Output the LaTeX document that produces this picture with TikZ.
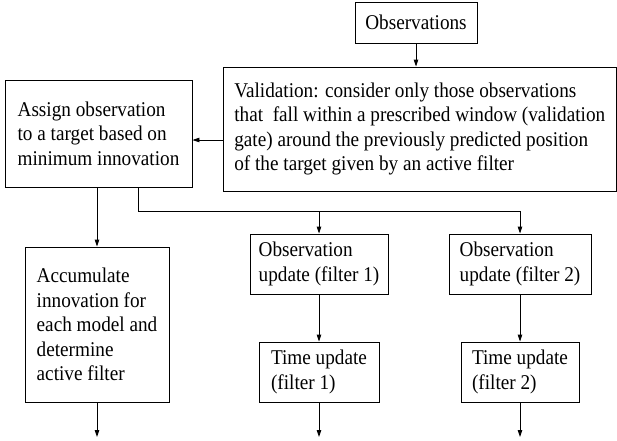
\documentclass[tikz,border=0pt]{standalone}
\usepackage{fontspec}
\setmainfont{Liberation Serif}[FakeStretch=0.915]
\usetikzlibrary{arrows.meta}
\tikzset{
  box/.style={draw, line width=0.9pt, align=left, inner xsep=4pt, inner ysep=2pt,
    font=\fontsize{21}{24.5}\selectfont},
  arr/.style={line width=0.9pt, -{Triangle[length=7pt,width=4.5pt]}},
  ln/.style={line width=0.9pt}
}
\begin{document}
\begin{tikzpicture}[x=1pt,y=-1pt]
\useasboundingbox (0,0) rectangle (617,440);
% boxes
\node[box, align=center, minimum width=122, minimum height=41] (obs) at (416,22.5) {Observations};
\node[box, minimum width=393.5, minimum height=124] (val) at (419.75,129)
  {Validation: consider only those observations\\that~ fall within a prescribed window (validation\\gate) around the previously predicted position\\of the target given by an active filter};
\node[box, minimum width=187, minimum height=107] (asg) at (98.5,133.5)
  {Assign observation\\to a target based on\\minimum innovation};
\node[box, minimum width=144, minimum height=155] (acc) at (97,324.5)
  {Accumulate\\innovation for\\each model and\\determine\\active filter};
\node[box, minimum width=138, minimum height=60] (ou1) at (319,264)
  {Observation\\update (filter 1)};
\node[box, minimum width=142, minimum height=60] (ou2) at (520,264)
  {Observation\\update (filter 2)};
\node[box, minimum width=120, minimum height=60] (tu1) at (319,372)
  {Time update\\(filter 1)};
\node[box, minimum width=118, minimum height=60] (tu2) at (520,372)
  {Time update\\(filter 2)};
% helper coordinates
\coordinate (hy) at (0,140);
\coordinate (br) at (138,211);
\coordinate (e1) at (97,437);
\coordinate (e2) at (319,437);
\coordinate (e3) at (520,437);
% connectors
\draw[arr] (obs.south) -- (obs.south |- val.north);
\draw[arr] (val.west |- hy) -- (asg.east |- hy);
\draw[arr] (asg.south -| acc.north) -- (acc.north);
\draw[ln] (asg.south -| br) -- (br) -- (br -| ou2.north);
\draw[arr] (br -| ou1.north) -- (ou1.north);
\draw[arr] (br -| ou2.north) -- (ou2.north);
\draw[arr] (ou1.south) -- (tu1.north);
\draw[arr] (ou2.south) -- (tu2.north);
\draw[arr] (acc.south) -- (e1);
\draw[arr] (tu1.south) -- (e2);
\draw[arr] (tu2.south) -- (e3);
\end{tikzpicture}
\end{document}
